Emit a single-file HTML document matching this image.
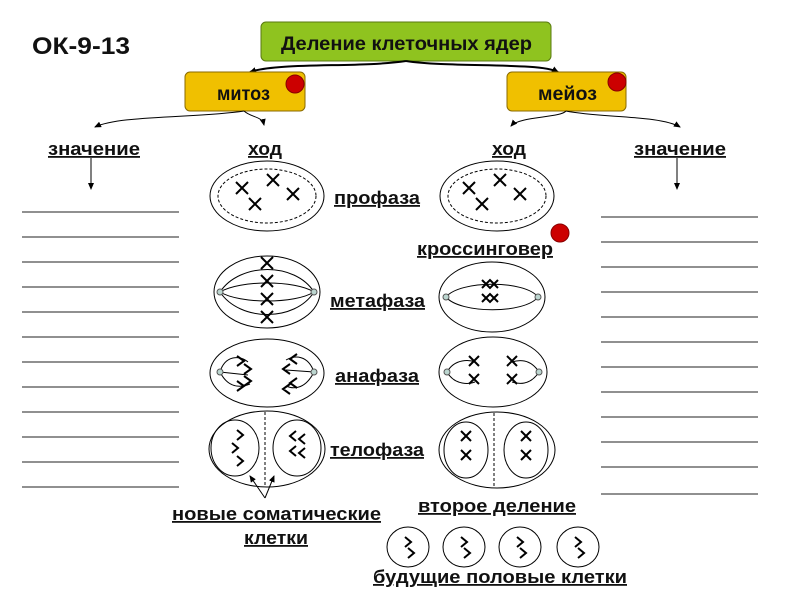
<!DOCTYPE html>
<html><head><meta charset="utf-8"><style>
body{margin:0;background:#fff}
svg{display:block}
text{font-family:"Liberation Sans",sans-serif;font-weight:bold}
</style></head><body>
<svg width="800" height="600" viewBox="0 0 800 600" xmlns="http://www.w3.org/2000/svg">
<defs>
<marker id="ar" markerUnits="userSpaceOnUse" markerWidth="8" markerHeight="8" refX="6" refY="3" orient="auto"><path d="M0,0 L7,3 L0,6 z" fill="#000"/></marker>
</defs>
<text x="32" y="54" font-size="24" fill="#111" textLength="98" lengthAdjust="spacingAndGlyphs">ОК-9-13</text>
<rect x="261" y="22" width="290" height="39" rx="5" fill="#8fc31f" stroke="#5a7a10"/>
<text x="281" y="50" font-size="19" fill="#111" textLength="251" lengthAdjust="spacingAndGlyphs">Деление клеточных ядер</text>
<path d="M406,61 C360,68 280,62 250,72" stroke="#000" stroke-width="2" fill="none" marker-end="url(#ar)"/>
<path d="M406,61 C450,68 540,62 558,72" stroke="#000" stroke-width="2" fill="none" marker-end="url(#ar)"/>
<rect x="185" y="72" width="120" height="39" rx="5" fill="#f0c000" stroke="#8a6a00"/>
<text x="217" y="100" font-size="19" fill="#111" textLength="53" lengthAdjust="spacingAndGlyphs">митоз</text>
<circle cx="295" cy="84" r="9" fill="#cc0000" stroke="#800"/>
<rect x="507" y="72" width="119" height="39" rx="5" fill="#f0c000" stroke="#8a6a00"/>
<text x="538" y="100" font-size="19" fill="#111" textLength="59" lengthAdjust="spacingAndGlyphs">мейоз</text>
<circle cx="617" cy="82" r="9" fill="#cc0000" stroke="#800"/>
<g stroke="#000" stroke-width="1" fill="none" marker-end="url(#ar)">
<path d="M244,111 C200,118 120,115 95,127"/>
<path d="M244,111 C252,118 262,116 264,125"/>
<path d="M566,111 C560,118 520,116 511,126"/>
<path d="M566,111 C600,118 660,115 680,127"/>
<path d="M91,158 L91,189"/>
<path d="M677,158 L677,189"/>
</g>
<g font-size="18" fill="#111" text-decoration="underline" lengthAdjust="spacingAndGlyphs">
<text x="48" y="155" textLength="92" lengthAdjust="spacingAndGlyphs">значение</text>
<text x="248" y="155" textLength="34" lengthAdjust="spacingAndGlyphs">ход</text>
<text x="492" y="155" textLength="34" lengthAdjust="spacingAndGlyphs">ход</text>
<text x="634" y="155" textLength="92" lengthAdjust="spacingAndGlyphs">значение</text>
<text x="334" y="204" textLength="86" lengthAdjust="spacingAndGlyphs">профаза</text>
<text x="417" y="255" textLength="136" lengthAdjust="spacingAndGlyphs">кроссинговер</text>
<text x="330" y="307" textLength="95" lengthAdjust="spacingAndGlyphs">метафаза</text>
<text x="335" y="382" textLength="84" lengthAdjust="spacingAndGlyphs">анафаза</text>
<text x="330" y="456" textLength="94" lengthAdjust="spacingAndGlyphs">телофаза</text>
<text x="172" y="520" textLength="209" lengthAdjust="spacingAndGlyphs">новые соматические</text>
<text x="244" y="544" textLength="64" lengthAdjust="spacingAndGlyphs">клетки</text>
<text x="418" y="512" textLength="158" lengthAdjust="spacingAndGlyphs">второе деление</text>
<text x="373" y="583" textLength="254" lengthAdjust="spacingAndGlyphs">будущие половые клетки</text>
</g>
<circle cx="560" cy="233" r="9" fill="#cc0000" stroke="#800"/>
<g stroke="#222" stroke-width="1">
<line x1="22" y1="212" x2="179" y2="212"/><line x1="22" y1="237" x2="179" y2="237"/><line x1="22" y1="262" x2="179" y2="262"/><line x1="22" y1="287" x2="179" y2="287"/><line x1="22" y1="312" x2="179" y2="312"/><line x1="22" y1="337" x2="179" y2="337"/><line x1="22" y1="362" x2="179" y2="362"/><line x1="22" y1="387" x2="179" y2="387"/><line x1="22" y1="412" x2="179" y2="412"/><line x1="22" y1="437" x2="179" y2="437"/><line x1="22" y1="462" x2="179" y2="462"/><line x1="22" y1="487" x2="179" y2="487"/>
<line x1="601" y1="217" x2="758" y2="217"/><line x1="601" y1="242" x2="758" y2="242"/><line x1="601" y1="267" x2="758" y2="267"/><line x1="601" y1="292" x2="758" y2="292"/><line x1="601" y1="317" x2="758" y2="317"/><line x1="601" y1="342" x2="758" y2="342"/><line x1="601" y1="367" x2="758" y2="367"/><line x1="601" y1="392" x2="758" y2="392"/><line x1="601" y1="417" x2="758" y2="417"/><line x1="601" y1="442" x2="758" y2="442"/><line x1="601" y1="467" x2="758" y2="467"/><line x1="601" y1="494" x2="758" y2="494"/>
</g>
<g stroke="#000" fill="none" stroke-width="1">
<ellipse cx="267" cy="196" rx="57" ry="35"/>
<ellipse cx="267" cy="196" rx="49" ry="27" stroke-dasharray="3,2"/>
<ellipse cx="497" cy="196" rx="57" ry="35"/>
<ellipse cx="497" cy="196" rx="49" ry="27" stroke-dasharray="3,2"/>
<ellipse cx="267" cy="292" rx="53" ry="36"/>
<path d="M220,292 C240,262 295,262 314,292 M220,292 C240,280 295,280 314,292 M220,292 C240,304 295,304 314,292 M220,292 C240,322 295,322 314,292"/>
<ellipse cx="492" cy="297" rx="53" ry="35"/>
<path d="M446,297 C460,280 525,280 538,297 M446,297 C460,314 525,314 538,297"/>
<ellipse cx="267" cy="373" rx="57" ry="34"/>
<path d="M220,372 C225,355 240,355 248,362 M220,372 L248,375 M220,372 C228,388 240,388 250,384 M314,372 C308,355 295,355 286,360 M314,372 L286,370 M314,372 C306,388 295,390 286,386"/>
<ellipse cx="493" cy="372" rx="54" ry="35"/>
<path d="M447,372 C455,358 470,360 475,362 M447,372 C455,386 470,384 475,382 M539,372 C530,358 518,360 512,362 M539,372 C530,386 518,384 512,382"/>
<ellipse cx="267" cy="449" rx="58" ry="38"/>
<line x1="265" y1="412" x2="265" y2="486" stroke-dasharray="3,2"/>
<ellipse cx="235" cy="448" rx="24" ry="28"/>
<ellipse cx="297" cy="448" rx="24" ry="28"/>
<ellipse cx="497" cy="450" rx="58" ry="38"/>
<line x1="494" y1="413" x2="494" y2="488" stroke-dasharray="3,2"/>
<ellipse cx="466" cy="450" rx="22" ry="28"/>
<ellipse cx="526" cy="450" rx="22" ry="28"/>
<ellipse cx="408" cy="547" rx="21" ry="20"/>
<ellipse cx="464" cy="547" rx="21" ry="20"/>
<ellipse cx="520" cy="547" rx="21" ry="20"/>
<ellipse cx="578" cy="547" rx="21" ry="20"/>
</g>
<g fill="#bcd6d0" stroke="#555">
<circle cx="220" cy="292" r="3"/><circle cx="314" cy="292" r="3"/>
<circle cx="446" cy="297" r="3"/><circle cx="538" cy="297" r="3"/>
<circle cx="220" cy="372" r="3"/><circle cx="314" cy="372" r="3"/>
<circle cx="447" cy="372" r="3"/><circle cx="539" cy="372" r="3"/>
</g>
<g stroke="#000" stroke-width="2" fill="none">
<path d="M236,182 l12,12 m0,-12 l-12,12 M267,174 l12,12 m0,-12 l-12,12 M287,188 l12,12 m0,-12 l-12,12 M249,198 l12,12 m0,-12 l-12,12"/>
<path d="M463,182 l12,12 m0,-12 l-12,12 M494,174 l12,12 m0,-12 l-12,12 M514,188 l12,12 m0,-12 l-12,12 M476,198 l12,12 m0,-12 l-12,12"/>
<path d="M261,257 l12,12 m0,-12 l-12,12 M261,275 l12,12 m0,-12 l-12,12 M261,293 l12,12 m0,-12 l-12,12 M261,311 l12,12 m0,-12 l-12,12"/>
<path d="M482,280 l8,8 l8,-8 M482,288 l8,-8 l8,8 M482,294 l8,8 l8,-8 M482,302 l8,-8 l8,8"/>
<path d="M237,356 l7,5 l-7,5 M244,364 l7,5 l-7,5 M237,381 l7,5 l-7,5 M244,376 l7,5 l-7,5 M297,354 l-7,5 l7,5 M290,364 l-7,5 l7,5 M297,378 l-7,5 l7,5 M290,384 l-7,5 l7,5"/>
<path d="M469,356 l10,10 m0,-10 l-10,10 M469,374 l10,10 m0,-10 l-10,10 M507,356 l10,10 m0,-10 l-10,10 M507,374 l10,10 m0,-10 l-10,10"/>
<path d="M237,430 l6,5 l-6,5 M232,443 l6,5 l-6,5 M237,456 l6,5 l-6,5 M296,431 l-6,5 l6,5 M305,434 l-6,5 l6,5 M296,446 l-6,5 l6,5 M305,448 l-6,5 l6,5"/>
<path d="M461,431 l10,10 m0,-10 l-10,10 M461,450 l10,10 m0,-10 l-10,10 M521,431 l10,10 m0,-10 l-10,10 M521,450 l10,10 m0,-10 l-10,10"/>
<path d="M405,537 l6,5 l-6,5 M408,548 l6,5 l-6,5 M461,537 l6,5 l-6,5 M464,548 l6,5 l-6,5 M517,537 l6,5 l-6,5 M520,548 l6,5 l-6,5 M575,537 l6,5 l-6,5 M578,548 l6,5 l-6,5"/>
</g>
<g stroke="#000" stroke-width="1" fill="none" marker-end="url(#ar)">
<path d="M265,498 L250,476"/>
<path d="M265,498 L274,476"/>
</g>
</svg>
</body></html>
